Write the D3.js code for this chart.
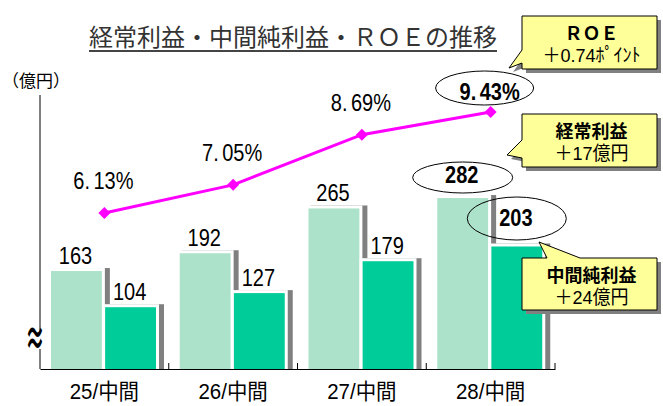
<!DOCTYPE html>
<html>
<head>
<meta charset="utf-8">
<script src="https://cdn.jsdelivr.net/npm/d3@7"></script>
<style>
  body { margin: 0; background: #fff; }
  svg { display: block; }
</style>
</head>
<body>
<script>
// data
var categories = ["25/中間", "26/中間", "27/中間", "28/中間"];
var keijoValues = [163, 192, 265, 282];     // 経常利益 (億円)
var junriValues = [104, 127, 179, 203];     // 中間純利益 (億円)
var roeValues = [6.13, 7.05, 8.69, 9.43];   // ROE (%)
var roeLabels = ["6.13%", "7.05%", "8.69%", "9.43%"];
var titleText = "経常利益・中間純利益・ＲＯＥの推移";
var unitText = "（億円）";
var calloutTitles = ["ＲＯＥ", "経常利益", "中間純利益"];
var calloutValues = ["＋0.74ﾎﾟｲﾝﾄ", "＋17億円", "＋24億円"];

var W = 663, H = 406;
var numFont = "'Liberation Sans', 'Noto Sans CJK JP', sans-serif";
var jpFont = "'Noto Sans CJK JP', sans-serif";
var lightGreen = "#ade2ca", darkGreen = "#00cc99", shadowGray = "#808080";
var last = categories.length - 1;

var svg = d3.select("body").append("svg")
  .attr("width", W)
  .attr("height", H);

var x = d3.scaleBand()
  .domain(categories)
  .range([40, 555])
  .padding(0);

var xSub = d3.scaleBand()
  .domain(["keijo", "junri"])
  .range([11, 116])
  .paddingInner(0.06);

// broken axis: bars start from the bottom but values are shifted
var y = d3.scaleLinear().domain([0, 300]).range([371, 187]);
var yRoe = d3.scaleLinear().domain([0, 10]).range([400.6, 94.6]);
var baseline = 369;

// narrow text: the original uses a tall, narrow japanese font for digits
function narrowAt(sel, fx, fy, sx) {
  sel.attr("transform", function(d, i) {
    return "translate(" + fx(d, i) + "," + fy(d, i) + ") scale(" + sx + ",1)";
  });
}

// title
svg.append("text")
  .attr("x", 89)
  .attr("y", 46)
  .attr("font-family", jpFont)
  .attr("font-size", 24)
  .attr("fill", "#333")
  .text(titleText);
svg.append("line")
  .attr("x1", 89).attr("x2", 497)
  .attr("y1", 51).attr("y2", 51)
  .attr("stroke", "#444")
  .attr("stroke-width", 2);

// unit
svg.append("text")
  .attr("x", 2)
  .attr("y", 87)
  .attr("font-family", jpFont)
  .attr("font-size", 17)
  .text(unitText);

// vertical axis line
svg.append("line")
  .attr("x1", 40).attr("x2", 40)
  .attr("y1", 95).attr("y2", baseline)
  .attr("stroke", "#000");

// bars
var groups = svg.selectAll("g.grp")
  .data(categories)
  .enter()
  .append("g")
    .attr("class", "grp")
    .attr("transform", function(d) { return "translate(" + x(d) + ",0)"; });

function drawBar(g, key, value, colour) {
  var bx = xSub(key), bw = xSub.bandwidth(), by = y(value);
  g.append("rect")
    .attr("x", bx - 3 + 5).attr("y", by - 3)
    .attr("width", bw + 6).attr("height", baseline - by + 4)
    .attr("fill", shadowGray);
  g.append("rect")
    .attr("x", bx - 3).attr("y", by - 3)
    .attr("width", bw + 6).attr("height", baseline - by + 3)
    .attr("fill", "#fff");
  g.append("rect")
    .attr("x", bx).attr("y", by)
    .attr("width", bw).attr("height", baseline - by)
    .attr("fill", colour);
}

groups.each(function(d, i) {
  var g = d3.select(this);
  drawBar(g, "keijo", keijoValues[i], lightGreen);
  drawBar(g, "junri", junriValues[i], darkGreen);
});

// axis along the bottom
var xAxis = svg.append("g")
  .attr("transform", "translate(0," + baseline + ")")
  .call(d3.axisBottom(x).tickSize(0).tickPadding(10));
xAxis.select(".domain").attr("stroke", "#000");
xAxis.selectAll("text")
  .attr("font-family", numFont)
  .attr("font-size", 22)
  .attr("fill", "#000")
  .attr("dy", "0.93em")
  .attr("transform", "scale(0.93,1)");

svg.append("g").selectAll("line")
  .data(categories)
  .enter()
  .append("line")
    .attr("x1", function(d) { return x(d) + x.step(); })
    .attr("x2", function(d) { return x(d) + x.step(); })
    .attr("y1", baseline - 6).attr("y2", baseline)
    .attr("stroke", "#000");

// axis break mark
svg.append("rect")
  .attr("x", 30).attr("y", 333)
  .attr("width", 14).attr("height", 16)
  .attr("fill", "#fff");
svg.append("text")
  .attr("transform", "translate(35,354) scale(0.65,1.45)")
  .attr("text-anchor", "middle")
  .attr("font-family", jpFont)
  .attr("font-size", 30)
  .attr("font-weight", "bold")
  .text("≈");

// value labels
function valueLabel(key, values) {
  var t = svg.append("g").selectAll("text")
    .data(values)
    .enter()
    .append("text")
      .attr("text-anchor", "middle")
      .attr("font-family", numFont)
      .attr("font-size", 23)
      .attr("font-weight", function(d, i) { return i === last ? "bold" : "normal"; })
      .text(function(d) { return d; });
  narrowAt(t,
    function(d, i) { return x(categories[i]) + xSub(key) + xSub.bandwidth() / 2 - 1; },
    function(d, i) {
      if (i === last) return key === "keijo" ? y(d) - 15 : y(d) - 20;
      return y(d) - 7;
    }, 0.87);
}
valueLabel("keijo", keijoValues);
valueLabel("junri", junriValues);

// ROE line
var cx = function(i) { return x(categories[i]) + x.bandwidth() / 2; };
var line = d3.line()
  .x(function(d, i) { return cx(i); })
  .y(function(d) { return yRoe(d); });

svg.append("path")
  .datum(roeValues)
  .attr("d", line)
  .attr("fill", "none")
  .attr("stroke", "#ff00ff")
  .attr("stroke-width", 3);

svg.append("g").selectAll("path")
  .data(roeValues)
  .enter()
  .append("path")
    .attr("d", d3.symbol().type(d3.symbolSquare).size(72))
    .attr("transform", function(d, i) {
      return "translate(" + cx(i) + "," + yRoe(d) + ") rotate(45)";
    })
    .attr("fill", "#ff00ff");

var roeText = svg.append("g").selectAll("text")
  .data(roeLabels)
  .enter()
  .append("text")
    .attr("text-anchor", "middle")
    .attr("font-family", numFont)
    .attr("font-size", 23)
    .attr("font-weight", function(d, i) { return i === last ? "bold" : "normal"; })
    .each(function(d) {
      var parts = d.split(".");
      var t = d3.select(this);
      t.append("tspan").text(parts[0] + ".");
      t.append("tspan").attr("dx", 4).text(parts[1]);
    });
narrowAt(roeText,
  function(d, i) { return cx(i) - 1; },
  function(d, i) { return i === last ? yRoe(roeValues[i]) - 12 : yRoe(roeValues[i]) - 24; },
  0.87);

// highlight ellipses on the latest period
var ellipses = [
  {cx: cx(last) - 6, cy: 88, rx: 49, ry: 17},
  {cx: x(categories[last]) + xSub("keijo") + xSub.bandwidth() / 2, cy: 177.5, rx: 50, ry: 15.5},
  {cx: x(categories[last]) + xSub("junri") + xSub.bandwidth() / 2, cy: 218.5, rx: 49.5, ry: 21.5}
];
svg.append("g").selectAll("ellipse")
  .data(ellipses)
  .enter()
  .append("ellipse")
    .attr("cx", function(d) { return d.cx; })
    .attr("cy", function(d) { return d.cy; })
    .attr("rx", function(d) { return d.rx; })
    .attr("ry", function(d) { return d.ry; })
    .attr("fill", "none")
    .attr("stroke", "#000")
    .attr("stroke-width", 1);

// callouts
var boxX0 = 522, boxX1 = 657;
var callouts = [
  {y0: 16, y1: 69, tail: [[boxX0, 50], [509, 68], [boxX0, 63]], side: "left"},
  {y0: 114, y1: 167, tail: [[boxX0, 140], [507, 155], [boxX0, 158]], side: "left"},
  {y0: 258, y1: 310, tail: [[547, 258], [539, 242], [580, 258]], side: "top"}
];

function calloutPath(c) {
  var p = d3.path();
  if (c.side === "left") {
    p.moveTo(boxX0, c.y0);
    p.lineTo(boxX1, c.y0);
    p.lineTo(boxX1, c.y1);
    p.lineTo(boxX0, c.y1);
    p.lineTo(c.tail[2][0], c.tail[2][1]);
    p.lineTo(c.tail[1][0], c.tail[1][1]);
    p.lineTo(c.tail[0][0], c.tail[0][1]);
  } else {
    p.moveTo(boxX0, c.y0);
    p.lineTo(c.tail[0][0], c.tail[0][1]);
    p.lineTo(c.tail[1][0], c.tail[1][1]);
    p.lineTo(c.tail[2][0], c.tail[2][1]);
    p.lineTo(boxX1, c.y0);
    p.lineTo(boxX1, c.y1);
    p.lineTo(boxX0, c.y1);
  }
  p.closePath();
  return p.toString();
}

var co = svg.append("g").selectAll("g")
  .data(callouts)
  .enter()
  .append("g");

co.append("path")
  .attr("d", calloutPath)
  .attr("transform", "translate(4,4)")
  .attr("fill", shadowGray);
co.append("path")
  .attr("d", calloutPath)
  .attr("fill", "#ffff99")
  .attr("stroke", "#000")
  .attr("stroke-width", 1);
co.append("text")
  .attr("x", (boxX0 + boxX1) / 2 + 2)
  .attr("y", function(d) { return d.y0 + 24; })
  .attr("text-anchor", "middle")
  .attr("font-family", jpFont)
  .attr("font-size", 18)
  .attr("font-weight", "bold")
  .text(function(d, i) { return calloutTitles[i]; });
var coVal = co.append("text")
  .attr("text-anchor", "middle")
  .attr("font-family", numFont)
  .attr("font-size", 19)
  .text(function(d, i) { return calloutValues[i]; });
narrowAt(coVal,
  function() { return (boxX0 + boxX1) / 2 + 2; },
  function(d) { return d.y0 + 46; },
  0.95);
</script>
</body>
</html>
